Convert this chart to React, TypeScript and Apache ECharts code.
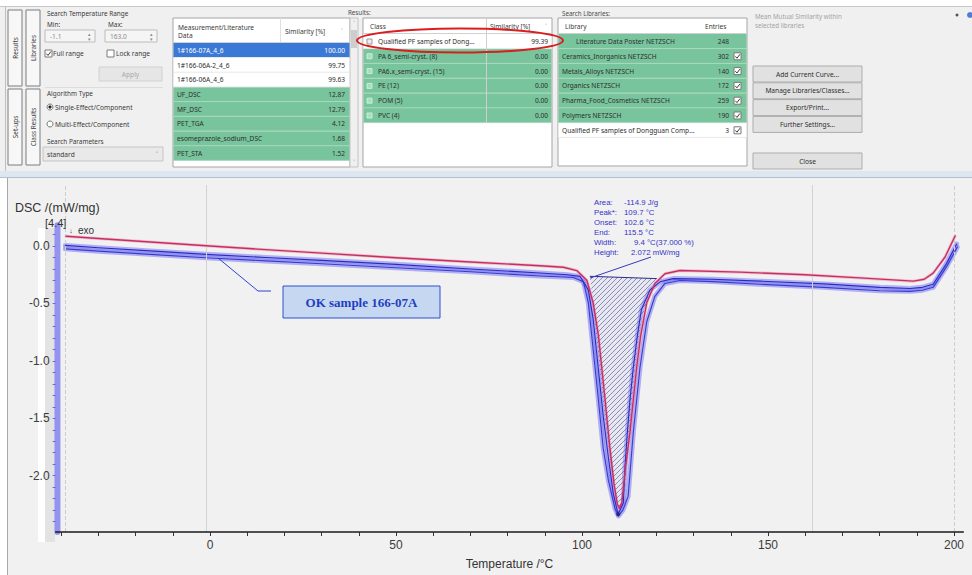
import React, { useEffect, useRef } from 'react';
import * as echarts from 'echarts';

// ---------------- data ----------------
const redT = [-38.7, -30, -15, 0, 15, 30, 50, 70, 88.7, 95, 98.6, 101.3, 103.0, 104.4, 105.3, 106.2, 107.5, 108.6, 109.5, 110.1, 110.7, 111.8, 112.9, 113.8, 114.7, 115.8, 117.4, 119.6, 122.3, 126.3, 142.5, 160, 174.7, 189.1, 192, 194.4, 197.6, 200.3];
const redV = [0.085, 0.065, 0.032, 0.0, -0.032, -0.062, -0.102, -0.14, -0.172, -0.185, -0.214, -0.298, -0.495, -0.776, -1.056, -1.338, -1.76, -2.069, -2.25, -2.285, -2.238, -1.9, -1.62, -1.338, -1.056, -0.776, -0.495, -0.326, -0.242, -0.213, -0.228, -0.25, -0.278, -0.306, -0.29, -0.236, -0.096, 0.087];

const blue1T = [-38.9, -30, -15, 0, 15, 30, 50, 70, 88.7, 96, 99.5, 101.7, 103.0, 103.9, 104.8, 105.7, 107.1, 108.4, 109.7, 111.1, 111.6, 112.2, 112.9, 113.8, 114.9, 116.0, 118.3, 121.0, 124.5, 135, 147.8, 165, 180, 188.2, 191.5, 194.4, 198, 200.7];
const blue1V = [0.005, -0.015, -0.045, -0.075, -0.1, -0.125, -0.16, -0.2, -0.235, -0.25, -0.265, -0.382, -0.635, -0.917, -1.197, -1.478, -1.844, -2.153, -2.336, -2.238, -1.9, -1.62, -1.338, -1.056, -0.776, -0.55, -0.382, -0.312, -0.284, -0.29, -0.306, -0.33, -0.36, -0.37, -0.36, -0.333, -0.152, 0.017];

const blue2T = [-38.9, -30, -15, 0, 15, 30, 50, 70, 88.7, 95, 97.7, 100.4, 101.7, 102.6, 103.5, 104.4, 105.7, 107.1, 108.9, 109.8, 111.0, 112.4, 113.8, 115.6, 117.4, 119.6, 122.3, 126.3, 135, 147.8, 165, 180, 188.2, 191.5, 194.4, 198, 200.9];
const blue2V = [-0.025, -0.045, -0.075, -0.105, -0.13, -0.155, -0.19, -0.225, -0.262, -0.27, -0.275, -0.312, -0.495, -0.776, -1.056, -1.338, -1.76, -2.04, -2.29, -2.35, -2.3, -2.18, -1.62, -1.056, -0.66, -0.438, -0.326, -0.3, -0.31, -0.333, -0.36, -0.39, -0.395, -0.385, -0.36, -0.18, -0.01];

const startT = [-41.0, -41.0];
const startV = [-2.49, 0.18];

const hatchT = [102.1, 103.0, 103.8, 104.7, 105.6, 106.6, 107.8, 108.9, 109.9, 111.6, 112.2, 113.4, 114.7, 116.0, 117.8, 119.6, 120.1];
const hatchV = [-0.264, -0.495, -0.776, -1.056, -1.338, -1.62, -1.9, -2.125, -2.32, -2.125, -1.76, -1.338, -0.917, -0.635, -0.438, -0.326, -0.284];

const peakT = [109.7];
const peakV = [-2.336];

const rangeLines = [-1.1, 161.8];
const curveEnds = [-38.8, 200.2];

const xTicks = [-40, -30, -20, -10, 0, 10, 20, 30, 40, 50, 60, 70, 80, 90, 100, 110, 120, 130, 140, 150, 160, 170, 180, 190, 200];
const xLabels = [0, 50, 100, 150, 200];
const yLabels = [0, -0.5, -1.0, -1.5, -2.0];
const yTicks = [0.1, 0, -0.1, -0.2, -0.3, -0.4, -0.5, -0.6, -0.7, -0.8, -0.9, -1.0, -1.1, -1.2, -1.3, -1.4, -1.5, -1.6, -1.7, -1.8, -1.9, -2.0, -2.1, -2.2, -2.3, -2.4];

const annLabels = ['Area:', 'Peak*:', 'Onset:', 'End:', 'Width:', 'Height:'];
const annValues = ['-114.9 J/g', '109.7 °C', '102.6 °C', '115.5 °C', '9.4 °C(37.000 %)', '2.072 mW/mg'];

const measNames = ['1#166-07A_4_6', '1#166-06A-2_4_6', '1#166-06A_4_6', 'UF_DSC', 'MF_DSC', 'PET_TGA', 'esomeprazole_sodium_DSC', 'PET_STA'];
const measSim = ['100.00', '99.75', '99.63', '12.87', '12.79', '4.12', '1.68', '1.52'];
const classNames = ['Qualified PF samples of Dong...', 'PA 6_semi-cryst. (8)', 'PA6.x_semi-cryst. (15)', 'PE (12)', 'POM (5)', 'PVC (4)'];
const classSim = ['99.39', '0.00', '0.00', '0.00', '0.00', '0.00'];
const libNames = ['Literature Data Poster NETZSCH', 'Ceramics_Inorganics NETZSCH', 'Metals_Alloys NETZSCH', 'Organics NETZSCH', 'Pharma_Food_Cosmetics NETZSCH', 'Polymers NETZSCH', 'Qualified PF samples of Dongguan Comp...'];
const libEntries = ['248', '302', '140', '172', '259', '190', '3'];
const buttonLabels = ['Add Current Curve...', 'Manage Libraries/Classes...', 'Export/Print...', 'Further Settings...'];

// ---------------- helpers ----------------
const UI_FONT = '"Noto Sans", "Open Sans", sans-serif';
const CH_FONT = '"Liberation Sans", Arial, sans-serif';
const pairs = (a: number[], b: number[]) => a.map((t, i) => [t, b[i]]);

function txt(x: number, y: number, text: string, o: any = {}) {
  return {
    type: 'text', x, y, silent: true, z: o.z ?? 20, rotation: o.rotation ?? 0,
    style: {
      text, fill: o.fill ?? '#3a3a3a',
      font: `${o.weight ?? 'normal'} ${o.size ?? 6.6}px ${o.family ?? UI_FONT}`,
      textAlign: o.align ?? 'left', textVerticalAlign: 'middle',
    },
  };
}
function rect(x: number, y: number, w: number, h: number, fill: string, stroke?: string, z = 10) {
  return { type: 'rect', silent: true, z, shape: { x, y, width: w, height: h }, style: { fill, stroke: stroke ?? 'none', lineWidth: 1 } };
}
function ln(x1: number, y1: number, x2: number, y2: number, stroke: string, lw = 1, z = 12, dash?: number[]) {
  return { type: 'line', silent: true, z, shape: { x1, y1, x2, y2 }, style: { stroke, lineWidth: lw, lineDash: dash } };
}
function checkbox(x: number, y: number, checked: boolean) {
  const els: any[] = [rect(x, y, 7, 7, '#ffffff', '#7a7a7a', 15)];
  if (checked) els.push({ type: 'polyline', silent: true, z: 16, shape: { points: [[x + 1.3, y + 3.6], [x + 3, y + 5.4], [x + 5.9, y + 1.5]] }, style: { stroke: '#3a3a3a', lineWidth: 1, fill: 'none' } });
  return els;
}

function buildPanel(): any[] {
  const g: any[] = [];
  // backgrounds
  g.push(rect(0, 0, 972, 7, '#ffffff', undefined, 1));
  g.push(rect(0, 7, 972, 164, '#f0f0f0', undefined, 1));
  g.push(ln(0, 6.5, 972, 6.5, '#c8c8c8', 1, 2));
  g.push(rect(0, 171, 972, 6, '#dde7f2', undefined, 2));
  g.push(ln(0, 177.5, 972, 177.5, '#b4c0cc', 1, 2));
  g.push(ln(5.5, 7, 5.5, 171, '#bdbdbd', 1, 2));
  // chart-side left margin
  g.push(rect(0, 178, 7, 397, '#ffffff', undefined, 1));
  g.push(ln(7.5, 178, 7.5, 575, '#a8a8a8', 1, 2));
  g.push(rect(38, 228, 7, 314, '#ffffff', undefined, 1));
  g.push(rect(45, 228, 10, 314, '#e3e3e3', undefined, 1));

  // vertical tabs
  const tabs = [[8, 10, 'Results'], [26, 10, 'Libraries'], [8, 89, 'Set-ups'], [26, 89, 'Class Results']] as any[];
  tabs.forEach(([x, y, t]) => {
    g.push(rect(x, y, 14, 76, '#f7f7f7', '#7d7d7d'));
    g.push(txt(x + 7, y + 38, t, { align: 'center', rotation: Math.PI / 2, size: 6.4 }));
  });

  // search temperature range group
  g.push(txt(47, 13, 'Search Temperature Range', { size: 6.4 }));
  g.push(txt(47, 24, 'Min:', { size: 6.4 }));
  g.push(txt(108, 24, 'Max:', { size: 6.4 }));
  g.push(rect(45, 30, 50, 12, '#f5f5f5', '#bcbcbc'));
  g.push(txt(50, 36, '-1.1', { fill: '#8c8c8c' }));
  g.push(txt(89, 33.5, '▴', { size: 5, fill: '#8a8a8a', align: 'center' }));
  g.push(txt(89, 38.8, '▾', { size: 5, fill: '#8a8a8a', align: 'center' }));
  g.push(rect(105, 30, 52, 12, '#f5f5f5', '#bcbcbc'));
  g.push(txt(110, 36, '163.0', { fill: '#8c8c8c' }));
  g.push(txt(151, 33.5, '▴', { size: 5, fill: '#8a8a8a', align: 'center' }));
  g.push(txt(151, 38.8, '▾', { size: 5, fill: '#8a8a8a', align: 'center' }));
  g.push(...checkbox(45, 50, true));
  g.push(txt(53, 53.5, 'Full range'));
  g.push(...checkbox(107, 50, false));
  g.push(txt(116, 53.5, 'Lock range'));
  g.push(rect(99, 67, 63, 14, '#e6e6e6', '#d0d0d0'));
  g.push(txt(130.5, 74, 'Apply', { align: 'center', fill: '#a8a8a8' }));
  g.push(ln(45, 87.5, 163, 87.5, '#dcdcdc', 1));
  g.push(txt(47, 93, 'Algorithm Type', { size: 6.4 }));
  g.push({ type: 'circle', silent: true, z: 15, shape: { cx: 50, cy: 107, r: 3 }, style: { fill: '#fff', stroke: '#555', lineWidth: 0.8 } });
  g.push({ type: 'circle', silent: true, z: 16, shape: { cx: 50, cy: 107, r: 1.6 }, style: { fill: '#222' } });
  g.push(txt(55, 107, 'Single-Effect/Component'));
  g.push({ type: 'circle', silent: true, z: 15, shape: { cx: 50, cy: 124, r: 3 }, style: { fill: '#fff', stroke: '#555', lineWidth: 0.8 } });
  g.push(txt(55, 124, 'Multi-Effect/Component'));
  g.push(txt(47, 141, 'Search Parameters', { size: 6.4 }));
  g.push(rect(43, 147, 120, 14, '#e9e9e9', '#c4c4c4'));
  g.push(txt(47, 154, 'standard'));
  g.push(txt(157, 154, '˅', { size: 7, fill: '#666', align: 'center' }));

  // measurement table
  g.push(rect(173, 18, 177, 149, '#ffffff', '#a5a5a5'));
  g.push(rect(350, 18, 8, 149, '#f0f0f0', '#c3c3c3'));
  g.push(rect(351, 30, 6, 18, '#cdcdcd'));
  g.push(txt(354, 23, '˄', { size: 6, fill: '#777', align: 'center' }));
  g.push(txt(354, 162, '˅', { size: 6, fill: '#777', align: 'center' }));
  g.push(txt(178, 27, 'Measurement/Literature'));
  g.push(txt(178, 35.5, 'Data'));
  g.push(txt(285, 31, 'Similarity [%]'));
  g.push(txt(342, 31, '˅', { size: 6, fill: '#777', align: 'center' }));
  g.push(ln(280.5, 18, 280.5, 43, '#e0e0e0'));
  g.push(ln(173, 42.5, 350, 42.5, '#d0d0d0'));
  measNames.forEach((n, i) => {
    const y0 = 43 + 14.7 * i;
    const fill = i === 0 ? '#3b79d6' : i < 3 ? '#ffffff' : '#78c49c';
    g.push(rect(173.5, y0, 176, 14.7, fill, undefined, 11));
    g.push(ln(173.5, y0 + 14.5, 349.5, y0 + 14.5, i >= 3 ? '#a8d9bd' : '#e8e8e8', 1, 12));
    const tf = i === 0 ? '#ffffff' : '#2e2e2e';
    g.push(txt(177, y0 + 7.4, n, { fill: tf }));
    g.push(txt(345, y0 + 7.4, measSim[i], { fill: tf, align: 'right' }));
  });

  // results / class table
  g.push(txt(348, 12, 'Results:', { size: 6.2, fill: '#4a4a4a' }));
  g.push(rect(363, 18, 189, 149, '#ffffff', '#a5a5a5'));
  g.push(txt(370, 26, 'Class'));
  g.push(txt(490, 26, 'Similarity [%]'));
  g.push(txt(546, 26, '˅', { size: 6, fill: '#777', align: 'center' }));
  g.push(ln(363, 33.5, 552, 33.5, '#d0d0d0'));
  classNames.forEach((n, i) => {
    const y0 = 34 + 14.8 * i;
    const fill = i === 0 ? '#ffffff' : '#78c49c';
    g.push(rect(363.5, y0, 188, 14.8, fill, undefined, 11));
    g.push(ln(363.5, y0 + 14.6, 551.5, y0 + 14.6, i >= 1 ? '#a8d9bd' : '#e8e8e8', 1, 12));
    g.push(rect(367, y0 + 5, 5, 5, i === 0 ? '#eeeeee' : '#a9dcc0', i === 0 ? '#9a9a9a' : '#c8eed8', 13));
    g.push(txt(378, y0 + 7.4, n, { fill: '#2e2e2e' }));
    g.push(txt(548, y0 + 7.4, classSim[i], { fill: '#2e2e2e', align: 'right' }));
  });
  g.push(ln(486.5, 18, 486.5, 123, '#cfcfcf', 1, 13));

  // search libraries table
  g.push(txt(562, 13, 'Search Libraries:', { size: 6.2, fill: '#4a4a4a' }));
  g.push(rect(558, 18, 189, 148, '#ffffff', '#a5a5a5'));
  g.push(txt(565, 26, 'Library'));
  g.push(txt(705, 26, 'Entries'));
  g.push(ln(558, 33.5, 747, 33.5, '#d0d0d0'));
  libNames.forEach((n, i) => {
    const y0 = 34 + 14.8 * i;
    const fill = i < 6 ? '#78c49c' : '#ffffff';
    g.push(rect(558.5, y0, 188, 14.8, fill, undefined, 11));
    g.push(ln(558.5, y0 + 14.6, 746.5, y0 + 14.6, i < 6 ? '#a8d9bd' : '#e8e8e8', 1, 12));
    g.push(txt(i === 0 ? 576 : 562, y0 + 7.4, n, { fill: '#2e2e2e' }));
    g.push(txt(729, y0 + 7.4, libEntries[i], { fill: '#2e2e2e', align: 'right' }));
    if (i > 0) g.push(...checkbox(734, y0 + 4, true));
  });

  // right panel
  g.push(txt(755, 16, 'Mean Mutual Similarity within', { fill: '#a3a3a3', size: 6.2 }));
  g.push(txt(755, 25, 'selected libraries', { fill: '#a3a3a3', size: 6.2 }));
  buttonLabels.forEach((b, i) => {
    const y0 = 66 + 16.8 * i;
    g.push(rect(753, y0, 109, 16, '#e1e1e1', '#adadad'));
    g.push(txt(807.5, y0 + 8, b, { align: 'center', fill: '#2e2e2e' }));
  });
  g.push(rect(753, 153, 109, 16, '#e1e1e1', '#adadad'));
  g.push(txt(807.5, 161, 'Close', { align: 'center', fill: '#2e2e2e' }));
  g.push({ type: 'circle', silent: true, z: 15, shape: { cx: 957, cy: 15, r: 1.5 }, style: { fill: '#555' } });
  g.push({ type: 'circle', silent: true, z: 15, shape: { cx: 970, cy: 15, r: 3 }, style: { fill: '#4a7fd4' } });

  // red highlight ellipse
  g.push({ type: 'ellipse', silent: true, z: 60, shape: { cx: 460, cy: 40.5, rx: 103, ry: 12 }, style: { fill: 'none', stroke: '#d81e1e', lineWidth: 2 } });

  // chart texts
  g.push(txt(15, 208, 'DSC /(mW/mg)', { family: CH_FONT, size: 12.5, fill: '#333' }));
  g.push(txt(45, 223, '[4.4]', { family: CH_FONT, size: 11, fill: '#333' }));
  g.push(txt(71, 230, '↓', { family: CH_FONT, size: 7, fill: '#333', align: 'center' }));
  g.push(txt(78, 230.5, 'exo', { family: CH_FONT, size: 10, fill: '#333' }));

  // peak annotation
  annLabels.forEach((l, i) => {
    const y = 202 + 10 * i;
    g.push(txt(594, y, l, { family: CH_FONT, size: 7.8, fill: '#3434c8', z: 50 }));
    const vx = i < 4 ? 624 : i === 4 ? 634 : 631;
    g.push(txt(vx, y, annValues[i], { family: CH_FONT, size: 7.8, fill: '#3434c8', z: 50 }));
  });
  g.push(ln(590, 278, 651, 257, '#3838c0', 1, 50));

  // callout
  g.push(ln(218, 258, 258, 291, '#2a45d0', 1, 50));
  g.push(ln(258, 291, 271, 291, '#2a45d0', 1, 50));
  g.push(rect(283, 286, 157, 32, '#c6d8f1', '#2f4fd0', 50));
  g.push(txt(361.5, 302.5, 'OK sample 166-07A', { family: '"Liberation Serif", "Times New Roman", serif', weight: 'bold', size: 13, fill: '#1f3fbf', align: 'center', z: 55 }));
  return g;
}

export default function App() {
  const ref = useRef<HTMLDivElement>(null);
  useEffect(() => {
    if (!ref.current) return;
    const chart = echarts.init(ref.current, undefined, { renderer: 'svg' });
    const halo = (name: string, t: number[], v: number[], color: string, w: number, z: number, extra: any = {}) => ({
      type: 'line', name, data: pairs(t, v), showSymbol: false, silent: true, clip: false, z,
      lineStyle: { color, width: w, cap: 'round', join: 'round' }, ...extra,
    });
    const option: any = {
      animation: false,
      backgroundColor: '#f1f1f1',
      grid: { left: 55.6, right: 8.7, top: 185.1, bottom: 31.7, containLabel: false },
      xAxis: {
        type: 'value', min: -41.5, max: 202.5, z: 8,
        name: 'Temperature /°C', nameLocation: 'middle', nameGap: 26,
        nameTextStyle: { fontFamily: CH_FONT, fontSize: 12, color: '#333' },
        axisLine: { onZero: false, lineStyle: { color: '#1a1a1a', width: 1.5 } },
        axisTick: { show: true, length: 4, lineStyle: { color: '#333' }, customValues: xTicks },
        axisLabel: { customValues: xLabels, fontFamily: CH_FONT, fontSize: 12, color: '#3c3c3c', margin: 7 },
        splitLine: { show: false },
      },
      yAxis: {
        type: 'value', min: -2.49, max: 0.53, z: 8,
        axisLine: { show: false, onZero: false },
        axisTick: { show: true, length: 3, lineStyle: { color: '#6a6ae6' }, customValues: yTicks },
        axisLabel: { customValues: yLabels, fontFamily: CH_FONT, fontSize: 12, color: '#3c3c3c', margin: 6, formatter: (v: number) => v.toFixed(1) },
        splitLine: { show: false },
      },
      graphic: { elements: buildPanel() },
      series: [
        halo('gridlines', [], [], '#ccc', 1, 1, {
          markLine: {
            silent: true, symbol: 'none', label: { show: false },
            data: [
              ...rangeLines.map((v) => ({ xAxis: v, lineStyle: { color: '#d2d2d2', width: 1, type: 'solid' } })),
              ...curveEnds.map((v) => ({ xAxis: v, lineStyle: { color: '#cdcdcd', width: 1, type: 'dashed' } })),
            ],
          },
        }),
        halo('blue2 halo', blue2T, blue2V, 'rgba(120,120,242,0.55)', 5, 2),
        halo('blue1 halo', blue1T, blue1V, 'rgba(120,120,242,0.55)', 5, 2),
        halo('red halo', redT, redV, 'rgba(232,130,170,0.45)', 3, 2),
        {
          type: 'custom', name: 'hatch', silent: true, z: 3, clip: false,
          data: [[hatchT[0], hatchV[0]]],
          encode: { x: 0, y: 1 },
          renderItem: (_p: any, api: any) => {
            const pts = hatchT.map((t, i) => api.coord([t, hatchV[i]]));
            const children: any[] = [{ type: 'polygon', shape: { points: pts }, style: { fill: 'rgba(190,190,240,0.18)', stroke: 'none' } }];
            const sums = pts.map((p: number[]) => p[0] + p[1]);
            const cmin = Math.min(...sums), cmax = Math.max(...sums);
            const step = 5;
            for (let c = Math.ceil(cmin / step) * step; c <= cmax; c += step) {
              const xs: number[][] = [];
              for (let i = 0; i < pts.length; i++) {
                const p1 = pts[i], p2 = pts[(i + 1) % pts.length];
                const s1 = p1[0] + p1[1] - c, s2 = p2[0] + p2[1] - c;
                if ((s1 < 0 && s2 >= 0) || (s1 >= 0 && s2 < 0)) {
                  const k = s1 / (s1 - s2);
                  xs.push([p1[0] + k * (p2[0] - p1[0]), p1[1] + k * (p2[1] - p1[1])]);
                }
              }
              xs.sort((a, b) => a[0] - b[0]);
              for (let k = 0; k + 1 < xs.length; k += 2) {
                children.push({ type: 'line', shape: { x1: xs[k][0], y1: xs[k][1], x2: xs[k + 1][0], y2: xs[k + 1][1] }, style: { stroke: '#4c4c92', lineWidth: 0.7, opacity: 0.85 } });
              }
            }
            const a = pts[0], b = pts[pts.length - 1];
            children.push({ type: 'line', shape: { x1: a[0], y1: a[1], x2: b[0], y2: b[1] }, style: { stroke: '#2c2c8a', lineWidth: 1 } });
            return { type: 'group', children };
          },
        },
        halo('blue2', blue2T, blue2V, '#3a3ad0', 1.1, 4),
        halo('blue1', blue1T, blue1V, '#2b2bc4', 1.1, 4),
        halo('red', redT, redV, '#c92e62', 1.4, 5),
        halo('start', startT, startV, 'rgba(125,125,240,0.8)', 6, 4),
        {
          type: 'scatter', name: 'peak', silent: true, z: 6,
          data: pairs(peakT, peakV), symbol: 'circle', symbolSize: 4,
          itemStyle: { color: '#22226a' },
        },
      ],
    };
    chart.setOption(option);
    return () => chart.dispose();
  }, []);
  return <div ref={ref} style={{ position: 'fixed', left: 0, top: 0, width: 972, height: 575 }} />;
}
